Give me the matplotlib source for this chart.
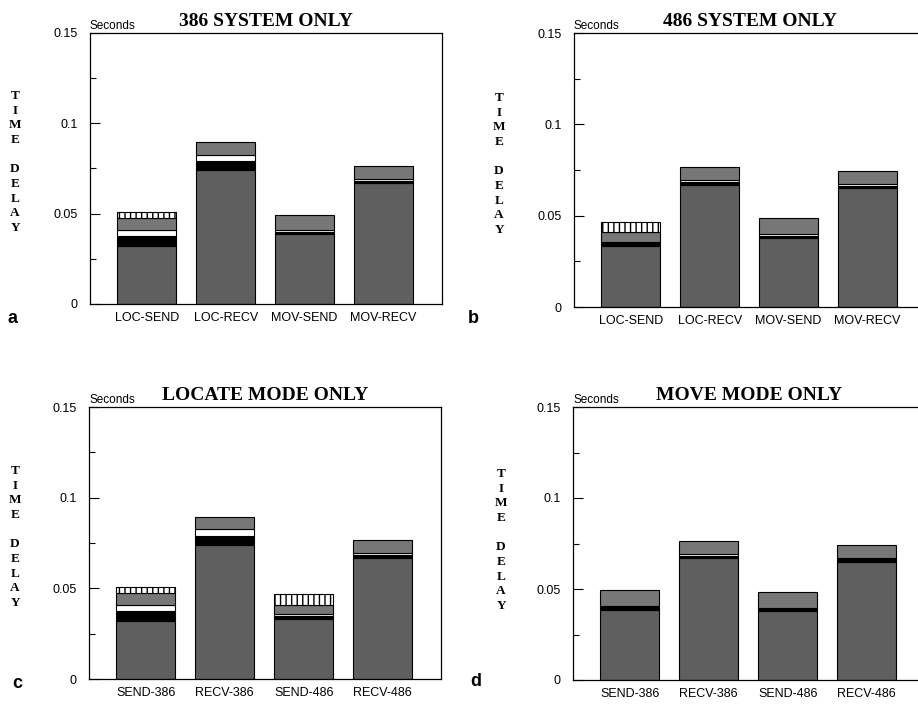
import matplotlib
matplotlib.use("Agg")
import matplotlib.pyplot as plt
import numpy as np

# ---------------- data (seconds) ----------------
ops = ["LOC-SEND", "LOC-RECV", "MOV-SEND", "MOV-RECV"]
mode_labels = ["SEND-386", "RECV-386", "SEND-486", "RECV-486"]

# stacked components, bottom -> top, order of ops above
base_386  = [0.0320, 0.0740, 0.0385, 0.0670]
black_386 = [0.0055, 0.0050, 0.0015, 0.0013]
white_386 = [0.0035, 0.0037, 0.0007, 0.0007]
gray_386  = [0.0065, 0.0068, 0.0086, 0.0072]
hatch_386 = [0.0035, 0.0000, 0.0000, 0.0000]

base_486  = [0.0332, 0.0670, 0.0380, 0.0650]
black_486 = [0.0016, 0.0016, 0.0010, 0.0013]
white_486 = [0.0008, 0.0008, 0.0008, 0.0008]
gray_486  = [0.0054, 0.0070, 0.0088, 0.0073]
hatch_486 = [0.0058, 0.0000, 0.0000, 0.0000]

sys_386 = [base_386, black_386, white_386, gray_386, hatch_386]
sys_486 = [base_486, black_486, white_486, gray_486, hatch_486]

yticks = [0, 0.05, 0.1, 0.15]
ytick_labels = ["0", "0.05", "0.1", "0.15"]

titles = ["386 SYSTEM ONLY", "486 SYSTEM ONLY", "LOCATE MODE ONLY", "MOVE MODE ONLY"]
letters = ["a", "b", "c", "d"]

# ---------------- style ----------------
seg_styles = [
    dict(facecolor="#5f5f5f", hatch=None),
    dict(facecolor="#000000", hatch=None),
    dict(facecolor="#ffffff", hatch=None),
    dict(facecolor="#777777", hatch=None),
    dict(facecolor="#ffffff", hatch="|||"),
]

def panel_data(idx):
    if idx == 0:
        return sys_386, ops
    if idx == 1:
        return sys_486, ops
    if idx == 2:
        segs = [[a[0], a[1], b[0], b[1]] for a, b in zip(sys_386, sys_486)]
        return segs, mode_labels
    segs = [[a[2], a[3], b[2], b[3]] for a, b in zip(sys_386, sys_486)]
    return segs, mode_labels

W, H = 918, 711
fig = plt.figure(figsize=(W / 100, H / 100), dpi=100)
plt.rcParams["hatch.linewidth"] = 1.0

# axes rects in pixels: left, top, width, height
rects = [(90, 33, 352, 271), (574, 33, 352, 274),
         (89, 407, 352, 272), (573, 407, 352, 273)]
ylab_pos = [(15, 162), (499, 164), (15, 537), (501, 540)]
letter_pos = [(8, 323), (468, 323), (12, 688), (470, 686)]

sans = ["Liberation Sans", "DejaVu Sans"]
serif = ["Liberation Serif", "DejaVu Serif"]

for i in range(4):
    l, t, w, h = rects[i]
    ax = fig.add_axes([l / W, (H - t - h) / H, w / W, h / H])
    segs, labels = panel_data(i)
    x = np.arange(len(labels))
    bottom = np.zeros(len(labels))
    for vals, st in zip(segs, seg_styles):
        vals = np.array(vals)
        mask = vals > 0
        ax.bar(x[mask], vals[mask], width=0.75, bottom=bottom[mask],
               facecolor=st["facecolor"], hatch=st["hatch"],
               edgecolor="black", linewidth=0.8)
        bottom += vals
    ax.set_xlim(-0.72, 3.74)
    ax.set_ylim(0, 0.15)
    ax.set_yticks(yticks)
    ax.set_yticklabels(ytick_labels, family=sans, fontsize=9)
    ax.set_yticks([0.025, 0.075, 0.125], minor=True)
    ax.tick_params(axis="y", which="major", direction="in", length=7, width=0.8, pad=9)
    ax.tick_params(axis="y", which="minor", direction="in", length=4, width=0.8)
    ax.set_xticks(x)
    ax.set_xticklabels(labels, family=sans, fontsize=9)
    ax.tick_params(axis="x", length=0, pad=6)
    for s in ax.spines.values():
        s.set_linewidth(0.9)
    ax.set_title(titles[i], family=serif, fontweight="bold", fontsize=14, pad=5)
    ax.text(0.0, 1.005, "Seconds", transform=ax.transAxes, family=sans,
            fontsize=8.5, ha="left", va="bottom")
    # vertical stacked axis label
    px, py = ylab_pos[i]
    fig.text(px / W, (H - py) / H, "T\nI\nM\nE\n\nD\nE\nL\nA\nY",
             family=serif, fontweight="bold", fontsize=9.5, ha="center",
             va="center", multialignment="center", linespacing=1.3)
    lx, ly = letter_pos[i]
    fig.text(lx / W, (H - ly) / H, letters[i], family=sans, fontweight="bold",
             fontsize=13, ha="left", va="baseline")

fig.savefig("out.png", dpi=100, facecolor="white")
